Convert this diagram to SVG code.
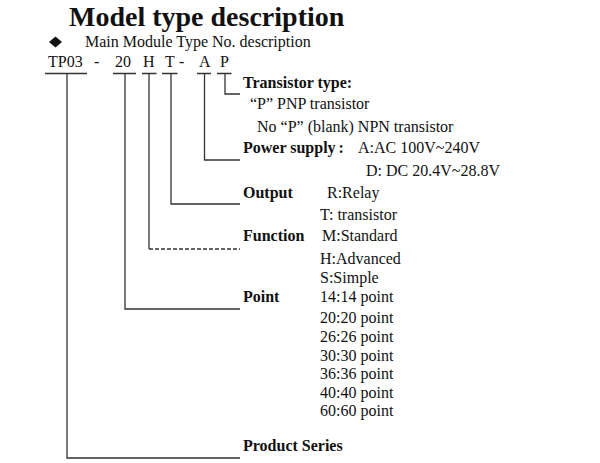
<svg xmlns="http://www.w3.org/2000/svg" width="600" height="463" viewBox="0 0 600 463">
<style>
text{font-family:"Liberation Serif","Times New Roman",serif;fill:#111}
.t{font-size:28px;font-weight:bold}
.r{font-size:16px}
.b{font-size:16px;font-weight:bold}
.ln{stroke:#333;stroke-width:1.3;fill:none}
.ds{stroke-dasharray:4 2}
</style>
<rect width="600" height="463" fill="#fff"/>
<g id="title"><text class="t" x="69" y="26">Model type description</text></g>
<g id="subtitle">
<path d="M55.5 36.5 L62 42 L55.5 47.5 L49 42 Z" fill="#111"/>
<text class="r" x="85" y="47">Main Module Type No. description</text>
</g>
<g id="code">
<text class="r" x="48" y="67">TP03</text>
<text class="r" x="94" y="67">-</text>
<text class="r" x="115" y="67">20</text>
<text class="r" x="143" y="67">H</text>
<text class="r" x="165" y="67">T</text>
<text class="r" x="179" y="67">-</text>
<text class="r" x="199" y="67">A</text>
<text class="r" x="220" y="67">P</text>
</g>
<g id="connectors">
<path class="ln" d="M45 73.5H87M113 73.5H136M142 73.5H156.5M162 73.5H177.5M197 73.5H211M217 73.5H231.5"/>
<path class="ln" d="M225 73.5V94H240"/>
<path class="ln" d="M204.5 73.5V160H240"/>
<path class="ln" d="M171 73.5V204H240"/>
<path class="ln" d="M149 73.5V249"/>
<path class="ln ds" d="M149 249H240"/>
<path class="ln" d="M125 73.5V309H240"/>
<path class="ln" d="M67 73.5V458H240"/>
</g>
<g id="transistor">
<text class="b" x="243" y="88">Transistor type:</text>
<text class="r" x="250" y="109">“P” PNP transistor</text>
<text class="r" x="257" y="132">No “P” (blank) NPN transistor</text>
</g>
<g id="power">
<text class="b" x="243" y="153">Power supply<tspan dx="3">:</tspan></text>
<text class="r" x="358" y="153">A:AC 100V~240V</text>
<text class="r" x="366" y="176">D: DC 20.4V~28.8V</text>
</g>
<g id="output">
<text class="b" x="243" y="198">Output</text>
<text class="r" x="327" y="198">R:Relay</text>
<text class="r" x="320" y="220">T: transistor</text>
</g>
<g id="function">
<text class="b" x="243" y="241">Function</text>
<text class="r" x="322" y="241">M:Standard</text>
<text class="r" x="320" y="264">H:Advanced</text>
<text class="r" x="320" y="283">S:Simple</text>
</g>
<g id="point">
<text class="b" x="243" y="302">Point</text>
<text class="r" x="320" y="302">14:14 point</text>
<text class="r" x="320" y="323">20:20 point</text>
<text class="r" x="320" y="342">26:26 point</text>
<text class="r" x="320" y="361">30:30 point</text>
<text class="r" x="320" y="379">36:36 point</text>
<text class="r" x="320" y="398">40:40 point</text>
<text class="r" x="320" y="416">60:60 point</text>
</g>
<g id="series"><text class="b" x="243" y="451">Product Series</text></g>
</svg>
